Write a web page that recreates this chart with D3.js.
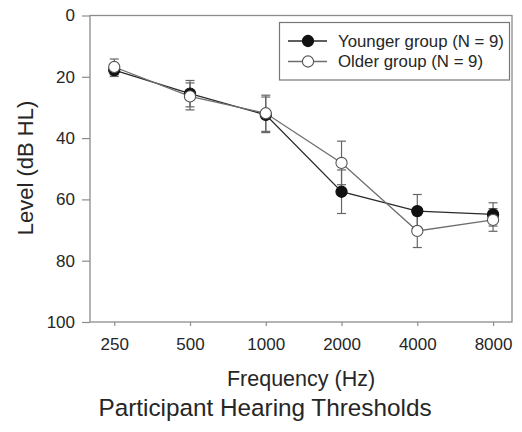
<!DOCTYPE html>
<html>
<head>
<meta charset="utf-8">
<script src="https://cdn.jsdelivr.net/npm/d3@7/dist/d3.min.js"></script>
<style>
  html, body { margin: 0; padding: 0; background: #fff; }
  svg { display: block; font-family: "Liberation Sans", Arial, Helvetica, sans-serif; }
</style>
</head>
<body>
<svg id="chart" width="522" height="432"></svg>
<script>
// ---- data ----
const frequencies = ["250", "500", "1000", "2000", "4000", "8000"];
const youngerMean = [17.8, 25.5, 32.4, 57.5, 63.8, 64.9];
const youngerErr  = [2.1, 4.3, 5.8, 7.1, 5.4, 3.8];
const olderMean   = [16.8, 26.4, 31.9, 48.1, 70.3, 66.7];
const olderErr    = [2.6, 4.4, 5.9, 7.1, 5.4, 3.7];
const yTicks = [0, 20, 40, 60, 80, 100];
const seriesNames = ["Younger group (N = 9)", "Older group (N = 9)"];

// ---- layout ----
const svg = d3.select("#chart");
const plotL = 90, plotR = 512, plotT = 15.5, plotB = 322;

const x = d3.scaleLinear().domain([-0.32, 5.25]).range([plotL, plotR]);
const y = d3.scaleLinear().domain([0, 100]).range([plotT, plotB]);

const frameColor = "#8c8c8c";
const textColor = "#262626";

// frame
svg.append("rect")
  .attr("x", plotL).attr("y", plotT)
  .attr("width", plotR - plotL).attr("height", plotB - plotT)
  .attr("fill", "none").attr("stroke", frameColor).attr("stroke-width", 1.3);

// y axis
const yAxis = svg.append("g")
  .attr("transform", `translate(${plotL},0)`)
  .call(d3.axisLeft(y).tickValues(yTicks).tickSize(8).tickPadding(7).tickFormat(d3.format("d")));
yAxis.select(".domain").remove();
yAxis.selectAll(".tick line").attr("stroke", frameColor).attr("stroke-width", 1.2);
yAxis.selectAll(".tick text").attr("fill", textColor).style("font-size", "17px");

// x axis
const xAxis = svg.append("g")
  .attr("transform", `translate(0,${plotB})`)
  .call(d3.axisBottom(x).tickValues(d3.range(frequencies.length)).tickSize(4).tickPadding(12)
    .tickFormat(i => frequencies[i]));
xAxis.select(".domain").remove();
xAxis.selectAll(".tick line").attr("stroke", frameColor).attr("stroke-width", 1.2);
xAxis.selectAll(".tick text").attr("fill", textColor).style("font-size", "17px");

// axis titles
svg.append("text")
  .attr("x", (plotL + plotR) / 2).attr("y", 386)
  .attr("text-anchor", "middle").attr("fill", textColor)
  .style("font-size", "21.5px").text("Frequency (Hz)");

svg.append("text")
  .attr("transform", `translate(33,168) rotate(-90)`)
  .attr("text-anchor", "middle").attr("fill", textColor)
  .style("font-size", "22px").text("Level (dB HL)");

svg.append("text")
  .attr("x", 265).attr("y", 416)
  .attr("text-anchor", "middle").attr("fill", textColor)
  .style("font-size", "24.3px").text("Participant Hearing Thresholds");

// series
const series = [
  { mean: youngerMean, err: youngerErr, line: "#2a2a2a", fill: "#111", stroke: "#111" },
  { mean: olderMean, err: olderErr, line: "#6e6e6e", fill: "#fff", stroke: "#555" }
];

const lineGen = d3.line().x((d, i) => x(i)).y(d => y(d));
const capW = 4.5, r = 5.6;

// error bars
series.forEach(s => {
  const g = svg.append("g").attr("stroke", "#666").attr("stroke-width", 1.2);
  s.mean.forEach((m, i) => {
    const lo = m - s.err[i], hi = m + s.err[i];
    g.append("line").attr("x1", x(i)).attr("x2", x(i)).attr("y1", y(lo)).attr("y2", y(hi));
    g.append("line").attr("x1", x(i) - capW).attr("x2", x(i) + capW).attr("y1", y(lo)).attr("y2", y(lo));
    g.append("line").attr("x1", x(i) - capW).attr("x2", x(i) + capW).attr("y1", y(hi)).attr("y2", y(hi));
  });
});

// lines
series.forEach(s => {
  svg.append("path").datum(s.mean)
    .attr("d", lineGen).attr("fill", "none")
    .attr("stroke", s.line).attr("stroke-width", 1.3);
});

// markers
series.forEach(s => {
  svg.append("g").selectAll("circle").data(s.mean).join("circle")
    .attr("cx", (d, i) => x(i)).attr("cy", d => y(d)).attr("r", r)
    .attr("fill", s.fill).attr("stroke", s.stroke).attr("stroke-width", 1.1);
});

// legend
const lg = svg.append("g");
lg.append("rect").attr("x", 279.5).attr("y", 22.5).attr("width", 230).attr("height", 57.5)
  .attr("fill", "#fff").attr("stroke", "#777").attr("stroke-width", 1.2);
const rowsY = [41, 61.5];
series.forEach((s, k) => {
  lg.append("line").attr("x1", 288).attr("x2", 327).attr("y1", rowsY[k]).attr("y2", rowsY[k])
    .attr("stroke", s.line).attr("stroke-width", 1.3);
  lg.append("circle").attr("cx", 308).attr("cy", rowsY[k]).attr("r", r)
    .attr("fill", s.fill).attr("stroke", s.stroke).attr("stroke-width", 1.1);
  lg.append("text").attr("x", 338).attr("y", rowsY[k]).attr("dy", "0.35em")
    .attr("fill", textColor).style("font-size", "16.8px").text(seriesNames[k]);
});
</script>
</body>
</html>
